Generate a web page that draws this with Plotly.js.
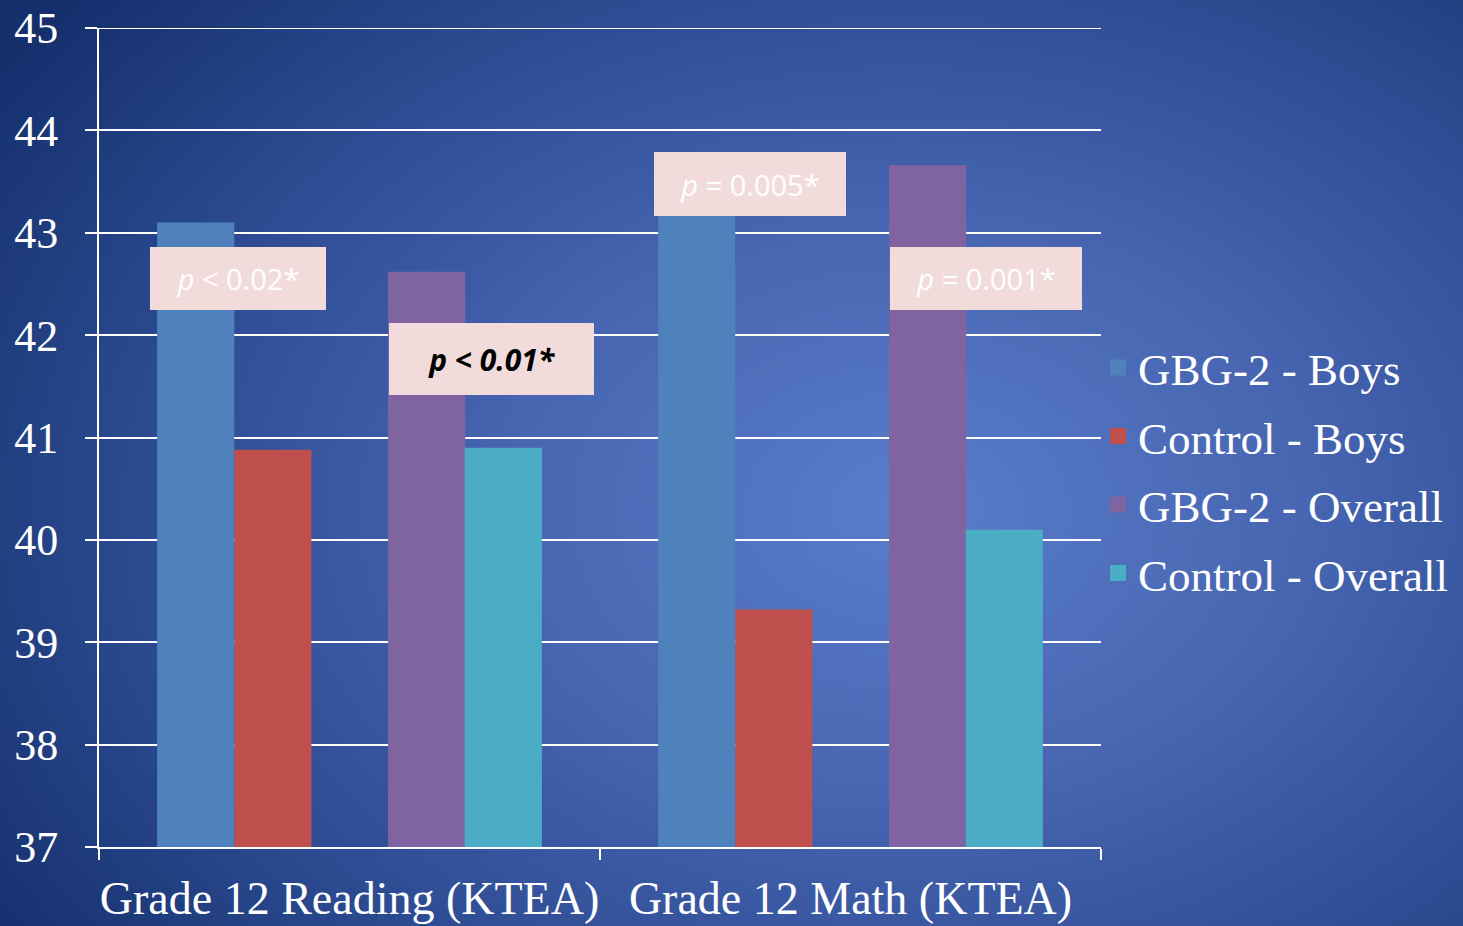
<!DOCTYPE html>
<html>
<head>
<meta charset="utf-8">
<script src="https://cdn.plot.ly/plotly-3.0.1.min.js"></script>
<style>
	html, body {
		margin: 0;
		padding: 0;
		width: 1463px;
		height: 926px;
		overflow: hidden;
		background: radial-gradient(ellipse 75% 85% at 62% 55%, #5a7dca 0%, #4866b2 35%, #2d4c93 68%, #142f6c 100%);
	}
	#chart {
		width: 1463px;
		height: 926px;
	}
</style>
</head>
<body>
<div id="chart"></div>
<script>
const categories = ['Grade 12 Reading (KTEA)', 'Grade 12 Math (KTEA)']
const seriesNames = ['GBG-2 - Boys', 'Control - Boys', 'GBG-2 - Overall', 'Control - Overall']
const gbgBoys = [43.1, 43.4]
const controlBoys = [40.88, 39.32]
const gbgOverall = [42.62, 43.66]
const controlOverall = [40.9, 40.1]
const seriesValues = [gbgBoys, controlBoys, gbgOverall, controlOverall]

const pLabels = ['<i>p</i> &lt; 0.02*', '<b><i>p &lt; 0.01*</i></b>', '<i>p</i> = 0.005*', '<i>p</i> = 0.001*']

const colors = ['#4f81bd', '#c0504d', '#8064a2', '#4bacc6']
const barWidth = 0.154
const offsets = [-0.384, -0.230, 0.077, 0.230]

function createChart() {
	const bars = seriesValues.map((values, i) => ({
		x: categories,
		y: values,
		type: 'bar',
		name: seriesNames[i],
		showlegend: false,
		width: barWidth,
		offset: offsets[i],
		marker: {
			color: colors[i],
			line: { width: 0 },
		},
	}))

	// legend entries with bigger square swatches than the bar legend gives
	const legendItems = seriesNames.map((name, i) => ({
		x: [null],
		y: [null],
		type: 'scatter',
		mode: 'markers',
		name: name,
		legendgroup: 'g' + i,
		marker: {
			symbol: 'square',
			size: 25,
			color: colors[i],
		},
	}))

	const boxFont = {
		family: 'Open Sans, Noto Sans, sans-serif',
		size: 29,
		color: '#ffffff',
	}

	const annotations = [
		{ x: -0.222, y: 42.55, text: pLabels[0], width: 176, height: 63 },
		{ x: 0.283, y: 41.77, text: pLabels[1], width: 205, height: 72, font: Object.assign({}, boxFont, { color: '#000000', size: 30 }) },
		{ x: 0.799, y: 43.48, text: pLabels[2], width: 192, height: 64 },
		{ x: 1.27, y: 42.55, text: pLabels[3], width: 192, height: 63 },
	].map((a) => Object.assign({
		xref: 'x',
		yref: 'y',
		showarrow: false,
		bgcolor: '#f2dcdb',
		borderpad: 0,
		borderwidth: 0,
		font: boxFont,
		xanchor: 'center',
		yanchor: 'middle',
	}, a))

	const layout = {
		width: 1463,
		height: 926,
		paper_bgcolor: 'rgba(0,0,0,0)',
		plot_bgcolor: 'rgba(0,0,0,0)',
		barmode: 'overlay',
		showlegend: true,
		margin: { l: 99, r: 362, t: 28, b: 79, pad: 0, autoexpand: false },
		font: {
			family: 'Liberation Serif, DejaVu Serif, serif',
			color: '#ffffff',
		},
		xaxis: {
			type: 'category',
			range: [-0.5, 1.5],
			tickson: 'boundaries',
			ticks: 'outside',
			ticklen: 11,
			tickwidth: 2,
			tickcolor: '#ffffff',
			tickangle: 0,
			showline: true,
			linecolor: '#ffffff',
			linewidth: 2,
			showgrid: false,
			tickfont: { size: 46, color: '#ffffff' },
			ticklabelstandoff: 10,
			automargin: false,
			fixedrange: true,
		},
		yaxis: {
			range: [37, 45],
			dtick: 1,
			tick0: 37,
			ticks: 'outside',
			ticklen: 12,
			tickwidth: 2,
			tickcolor: '#ffffff',
			showline: true,
			linecolor: '#ffffff',
			linewidth: 2,
			showgrid: true,
			gridcolor: '#ffffff',
			gridwidth: 2,
			zeroline: false,
			tickfont: { size: 44, color: '#ffffff' },
			ticklabelstandoff: 18,
			automargin: false,
			fixedrange: true,
		},
		shapes: [
			// top gridline at 45, which plotly drops at the range edge
			{
				type: 'line',
				xref: 'paper',
				yref: 'y',
				x0: 0,
				x1: 1,
				y0: 45,
				y1: 45,
				line: { color: '#ffffff', width: 2 },
				layer: 'below',
			},
		],
		legend: {
			x: 0.997,
			xanchor: 'left',
			y: 0.46,
			yanchor: 'middle',
			traceorder: 'grouped',
			tracegroupgap: 7,
			bgcolor: 'rgba(0,0,0,0)',
			font: { size: 45, color: '#ffffff' },
			itemclick: false,
		},
		annotations: annotations,
	}

	Plotly.newPlot('chart', bars.concat(legendItems), layout, { displayModeBar: false, staticPlot: true })
}

window.onload = createChart
</script>
</body>
</html>
